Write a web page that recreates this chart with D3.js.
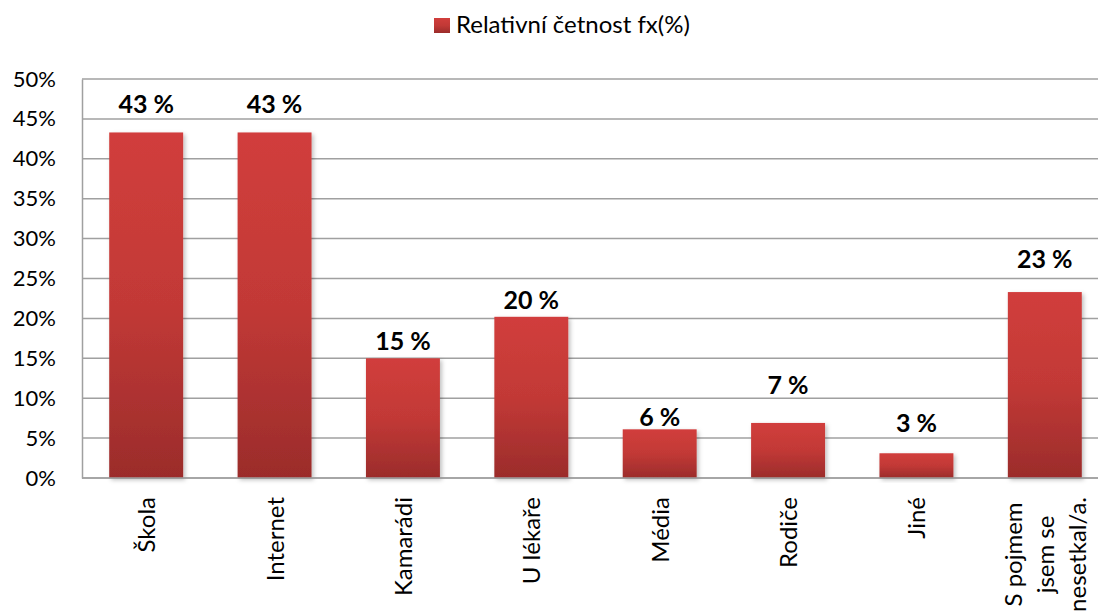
<!DOCTYPE html>
<html lang="cs">
<head>
<meta charset="utf-8">
<title>Relativní četnost</title>
<script src="https://d3js.org/d3.v7.min.js"></script>
<style>
  body { margin: 0; background: #fff; }
  text { font-family: Lato, "Open Sans", sans-serif; fill: #000; }
</style>
</head>
<body>
<script>
"use strict";

// data
const categories = ["Škola", "Internet", "Kamarádi", "U lékaře", "Média", "Rodiče", "Jiné", "S pojmem|jsem se|nesetkal/a."];
const values = [43.3, 43.3, 15.0, 20.2, 6.1, 6.9, 3.1, 23.3];
const yTicks = [0, 5, 10, 15, 20, 25, 30, 35, 40, 45, 50];
const seriesName = "Relativní četnost fx(%)";

// label gaps above bars (px), the labels were nudged by hand in the original
const labelGap = [19, 19, 8, 8, 3, 29, 21, 24];

let w = 1098, h = 611;
let plotLeft = 82, plotRight = 1109, plotTop = 79, plotBottom = 478;

let svg = d3.select("body").append("svg")
    .attr("width", w)
    .attr("height", h);

let defs = svg.append("defs");
let grad = defs.append("linearGradient")
    .attr("id", "barGrad")
    .attr("x1", 0).attr("y1", 0).attr("x2", 0).attr("y2", 1);
grad.append("stop").attr("offset", "0%").attr("stop-color", "#d13e3c");
grad.append("stop").attr("offset", "50%").attr("stop-color", "#c23936");
grad.append("stop").attr("offset", "100%").attr("stop-color", "#9b2c2b");

let shadow = defs.append("filter").attr("id", "shadow")
    .attr("x", "-10%").attr("y", "-10%").attr("width", "130%").attr("height", "130%");
shadow.append("feDropShadow")
    .attr("dx", 2).attr("dy", 2).attr("stdDeviation", 2)
    .attr("flood-color", "#000").attr("flood-opacity", 0.25);

let x = d3.scaleBand()
    .domain(categories)
    .range([plotLeft, plotRight])
    .paddingInner(0.424)
    .paddingOuter(0.212);

let y = d3.scaleLinear()
    .domain([0, 50])
    .range([plotBottom, plotTop]);

// gridlines
svg.append("g")
    .selectAll("line")
    .data(yTicks)
    .enter()
    .append("line")
    .attr("x1", plotLeft)
    .attr("x2", plotRight)
    .attr("y1", d => y(d))
    .attr("y2", d => y(d))
    .style("stroke", "#a0a0a0")
    .style("stroke-width", 1.5);

// y axis
let yAxis = svg.append("g")
    .attr("transform", "translate(" + plotLeft + ",0)")
    .call(d3.axisLeft(y).tickValues(yTicks).tickSize(0).tickPadding(26).tickFormat(d => d + "%"));
yAxis.select(".domain").style("stroke", "#a0a0a0").style("stroke-width", 1.5);
yAxis.selectAll("text")
    .style("font-size", "22px")
    .style("font-family", "Lato, sans-serif")
    .attr("fill", "#000");

// bars
svg.append("g")
    .selectAll("rect")
    .data(values)
    .enter()
    .append("rect")
    .attr("x", (d, i) => x(categories[i]))
    .attr("y", d => y(d))
    .attr("width", x.bandwidth())
    .attr("height", d => y(0) - y(d))
    .attr("fill", "url(#barGrad)")
    .attr("filter", "url(#shadow)");

// x axis line
svg.append("line")
    .attr("x1", plotLeft).attr("x2", plotRight)
    .attr("y1", plotBottom).attr("y2", plotBottom)
    .style("stroke", "#a0a0a0")
    .style("stroke-width", 1.5);

// value labels
svg.append("g")
    .selectAll("text")
    .data(values)
    .enter()
    .append("text")
    .attr("x", (d, i) => x(categories[i]) + x.bandwidth() / 2)
    .attr("y", (d, i) => y(d) - labelGap[i])
    .attr("text-anchor", "middle")
    .style("font-size", "25px")
    .style("font-weight", "bold")
    .text(d => Math.round(d) + " %");

// category labels, rotated
let lineH = 32;
categories.forEach(function(c, i) {
    let lines = c.split("|");
    let cx = x(c) + x.bandwidth() / 2;
    let g = svg.append("g");
    let texts = lines.map(function(l, j) {
        let off = (j - (lines.length - 1) / 2) * lineH;
        return g.append("text")
            .attr("transform", "translate(" + (cx + off + 9) + "," + (plotBottom + 19) + ") rotate(-90)")
            .style("font-size", "24px")
            .text(l);
    });
    let maxLen = d3.max(texts, t => t.node().getComputedTextLength());
    texts.forEach(function(t) {
        t.attr("text-anchor", "middle").attr("x", -maxLen / 2);
    });
});

// legend
let legend = svg.append("g");
legend.append("rect")
    .attr("x", 434).attr("y", 18)
    .attr("width", 16).attr("height", 15)
    .attr("fill", "url(#barGrad)");
legend.append("text")
    .attr("x", 456).attr("y", 33)
    .style("font-size", "24px")
    .text(seriesName);
</script>
</body>
</html>
